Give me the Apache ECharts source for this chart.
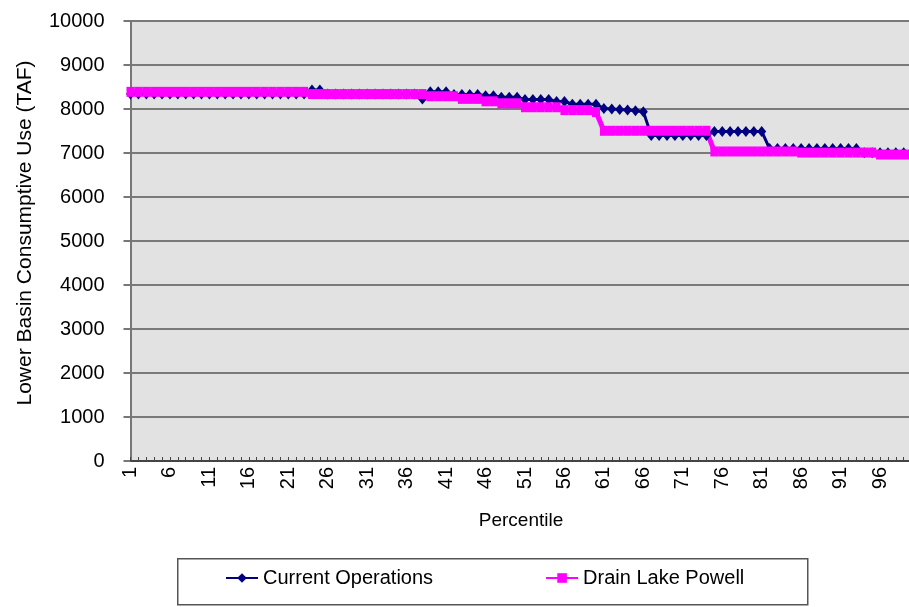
<!DOCTYPE html>
<html>
<head>
<meta charset="utf-8">
<script src="https://cdn.jsdelivr.net/npm/echarts@6/dist/echarts.min.js"></script>
<style>
html,body{margin:0;padding:0;background:#fff;}
#chart{width:909px;height:607px;}
</style>
</head>
<body>
<div id="chart"></div>
<script>
var categories = ['1','2','3','4','5','6','7','8','9','10','11','12','13','14','15','16','17','18','19','20',
'21','22','23','24','25','26','27','28','29','30','31','32','33','34','35','36','37','38','39','40',
'41','42','43','44','45','46','47','48','49','50','51','52','53','54','55','56','57','58','59','60',
'61','62','63','64','65','66','67','68','69','70','71','72','73','74','75','76','77','78','79','80',
'81','82','83','84','85','86','87','88','89','90','91','92','93','94','95','96','97','98','99','100'];

var currentOperations = [
8340,8340,8340,8340,8340,8340,8340,8340,8340,8340,
8340,8340,8340,8340,8340,8340,8340,8340,8340,8340,
8340,8340,8340,8430,8430,8340,8340,8340,8340,8340,
8340,8340,8340,8340,8340,8340,8340,8230,8390,8390,
8390,8330,8330,8330,8330,8300,8300,8265,8265,8265,
8215,8215,8215,8215,8170,8170,8110,8110,8110,8110,
8010,8000,7990,7975,7960,7940,7400,7400,7400,7400,
7400,7400,7400,7400,7490,7490,7490,7490,7490,7490,
7490,7100,7100,7100,7100,7100,7100,7100,7100,7100,
7100,7100,7100,7005,7005,7005,7005,7005,7005,7005];

var drainLakePowell = [
8390,8390,8390,8390,8390,8390,8390,8390,8390,8390,
8390,8390,8390,8390,8390,8390,8390,8390,8390,8390,
8390,8390,8390,8340,8340,8340,8340,8340,8340,8340,
8340,8340,8340,8340,8340,8340,8340,8340,8290,8290,
8290,8290,8230,8230,8230,8175,8175,8130,8130,8130,
8040,8040,8040,8040,8040,7975,7975,7975,7975,7930,
7505,7505,7505,7505,7505,7505,7505,7505,7505,7505,
7505,7505,7505,7505,7035,7035,7035,7035,7035,7035,
7035,7035,7035,7035,7035,7010,7010,7010,7010,7010,
7010,7010,7010,7010,7010,6965,6965,6965,6965,6965];

var chart = echarts.init(document.getElementById('chart'));
var FONT = 'Liberation Sans, Arial, sans-serif';
chart.setOption({
  animation: false,
  backgroundColor: '#ffffff',
  textStyle: { fontFamily: FONT },
  grid: {
    left: 130.5, right: -2.6, top: 21, bottom: 146,
    show: true, backgroundColor: '#e2e2e2', borderWidth: 0,
    containLabel: false, outerBoundsMode: 'none'
  },
  graphic: [{
    type: 'rect', left: 177, top: 558, z: 0,
    shape: { width: 630, height: 46 },
    style: { fill: '#ffffff', stroke: '#555555', lineWidth: 1.5 }
  }],
  legend: {
    left: 225, top: 568, z: 5, padding: 0,
    itemWidth: 32, itemHeight: 12, itemGap: 112,
    textStyle: { fontSize: 20, color: '#000', fontFamily: FONT },
    data: ['Current Operations', 'Drain Lake Powell']
  },
  xAxis: {
    type: 'category', data: categories, boundaryGap: false,
    name: 'Percentile', nameLocation: 'middle', nameGap: 50,
    nameTextStyle: { fontSize: 19, color: '#000', fontFamily: FONT },
    axisLine: { lineStyle: { color: '#444', width: 2 } },
    axisTick: { show: true, inside: true, length: 4, interval: 0, lineStyle: { color: '#444' } },
    axisLabel: { interval: 4, rotate: 90, fontSize: 20, color: '#000', margin: 6, fontFamily: FONT },
    splitLine: { show: false }
  },
  yAxis: {
    type: 'value', min: 0, max: 10000, interval: 1000,
    name: 'Lower Basin Consumptive Use (TAF)', nameLocation: 'middle', nameGap: 95,
    nameTextStyle: { fontSize: 21, color: '#000', fontFamily: FONT, padding: [0, 0, 0, 16] },
    axisLine: { show: true, lineStyle: { color: '#777', width: 2 } },
    axisTick: { show: true, length: 7, lineStyle: { color: '#777', width: 2 } },
    axisLabel: { fontSize: 20, color: '#000', margin: 26, fontFamily: FONT,
      formatter: function (v) { return String(v); } },
    splitLine: { show: true, lineStyle: { color: '#7a7a7a', width: 2 } }
  },
  series: [
    {
      name: 'Current Operations', type: 'line', data: currentOperations,
      symbol: 'diamond', symbolSize: [9, 11], showSymbol: true, showAllSymbol: true,
      itemStyle: { color: '#000080' },
      lineStyle: { color: '#000080', width: 3 }
    },
    {
      name: 'Drain Lake Powell', type: 'line', data: drainLakePowell,
      symbol: 'rect', symbolSize: [8, 10], showSymbol: true, showAllSymbol: true,
      itemStyle: { color: '#ff00ff' },
      lineStyle: { color: '#ff00ff', width: 5 }
    }
  ]
});
</script>
</body>
</html>
